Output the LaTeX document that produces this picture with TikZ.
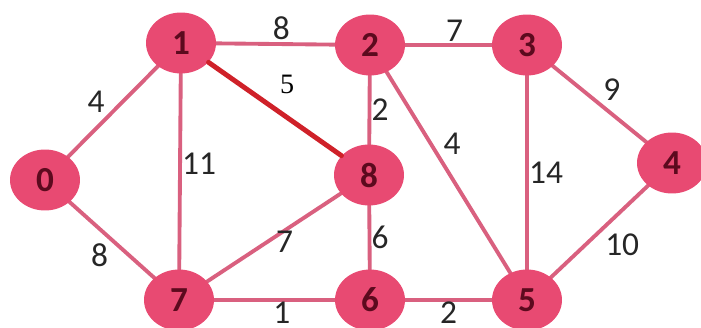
\documentclass[tikz,border=0pt]{standalone}
\usepackage{fontspec}
\setmainfont{Carlito}
\newfontfamily\timesfont{Liberation Serif}
\usetikzlibrary{shapes.geometric}
\definecolor{vfill}{HTML}{E84A72}
\definecolor{vtext}{HTML}{5C0A1E}
\definecolor{eline}{HTML}{D9607F}
\definecolor{ered}{HTML}{CF2129}
\begin{document}
\begin{tikzpicture}[x=0.02cm, y=-0.02cm, line join=round, line cap=round,
	vert/.style={ellipse, fill=vfill, minimum width=1.4cm, minimum height=1.22cm, inner sep=0pt, text=vtext, font=\fontsize{20}{24}\selectfont\bfseries},
	edge/.style={draw=eline, line width=2.2pt},
	wt/.style={font=\fontsize{19}{22}\selectfont, text=black!85, inner sep=2pt}]
	\useasboundingbox (0,0) rectangle (701,328);
	\draw[edge] (45,180) -- (181,43) (181,43) -- (370,45) (370,45) -- (527,45) (527,45) -- (672,163)
		(181,43) -- (179,300) (370,45) -- (369,175) (370,45) -- (527,300) (527,45) -- (527,300)
		(45,180) -- (179,300) (179,300) -- (369,175) (369,175) -- (370,300) (672,163) -- (527,300)
		(179,300) -- (370,300) (370,300) -- (527,300);
	\node[vert] (v0) at (45,180) {0};
	\node[vert] (v1) at (181,43) {1};
	\node[vert] (v2) at (370,45) {2};
	\node[vert] (v3) at (527,45) {3};
	\node[vert] (v4) at (672,163) {4};
	\node[vert] (v5) at (527,300) {5};
	\node[vert] (v6) at (370,300) {6};
	\node[vert] (v7) at (179,300) {7};
	\node[vert] (v8) at (369,175) {8};
	\path (v0) -- node[wt, pos=.45, above left] {4} (v1);
	\path (v1) -- node[wt, pos=.55, above] {8} (v2);
	\path (v2) -- node[wt, pos=.57, above] {7} (v3);
	\path (v3) -- node[wt, pos=.5, above right] {9} (v4);
	\path (v1) -- node[wt, pos=.46, right, inner sep=1pt] {11} (v7);
	\path (v2) -- node[wt, pos=.49, right, inner sep=1pt] {2} (v8);
	\path (v2) -- node[wt, pos=.43, above right] {4} (v5);
	\path (v3) -- node[wt, pos=.5, right, inner sep=1pt] {14} (v5);
	\path (v0) -- node[wt, pos=.5, below left] {8} (v7);
	\path (v7) -- node[wt, pos=.58, below, inner sep=0pt] {7} (v8);
	\path (v8) -- node[wt, pos=.5, right, inner sep=1pt] {6} (v6);
	\path (v4) -- node[wt, pos=.48, below right] {10} (v5);
	\path (v7) -- node[wt, pos=.56, below, inner sep=0pt, yshift=-1pt] {1} (v6);
	\path (v6) -- node[wt, pos=.5, below, inner sep=0pt, yshift=-1pt] {2} (v5);
	\draw[draw=ered, line width=2.8pt] (v1) -- node[pos=.48, above right, inner sep=3pt, yshift=3pt, font=\timesfont\fontsize{16}{18}\selectfont] {5} (v8);
\end{tikzpicture}
\end{document}
